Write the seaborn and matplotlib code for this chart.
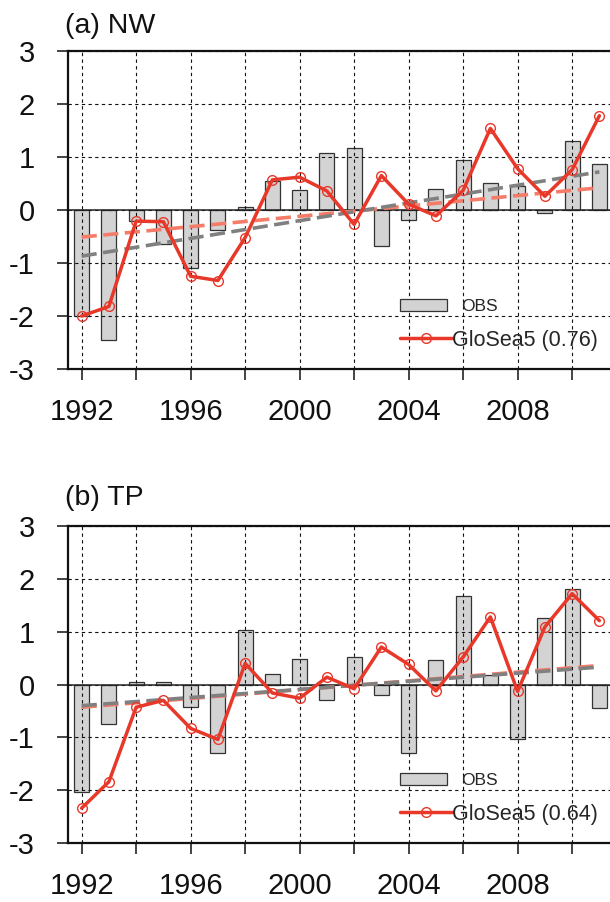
import matplotlib
matplotlib.use("Agg")
import matplotlib.pyplot as plt
import seaborn as sns
import pandas as pd
from matplotlib.patches import Patch
from matplotlib.lines import Line2D

# ---------------- data ----------------
years = [1992, 1993, 1994, 1995, 1996, 1997, 1998, 1999, 2000, 2001,
         2002, 2003, 2004, 2005, 2006, 2007, 2008, 2009, 2010, 2011]

obs_nw = [-2.00, -2.45, -0.21, -0.65, -1.09, -0.38, 0.06, 0.54, 0.38, 1.07,
          1.17, -0.68, -0.18, 0.39, 0.94, 0.51, 0.46, -0.06, 1.30, 0.87]
glosea_nw = [-2.00, -1.82, -0.21, -0.22, -1.25, -1.33, -0.52, 0.57, 0.62, 0.36,
             -0.27, 0.65, 0.11, -0.11, 0.37, 1.54, 0.78, 0.26, 0.76, 1.78]

obs_tp = [-2.04, -0.74, 0.05, 0.04, -0.43, -1.30, 1.04, 0.19, 0.48, -0.30,
          0.52, -0.19, -1.30, 0.47, 1.68, 0.18, -1.04, 1.25, 1.81, -0.45]
glosea_tp = [-2.34, -1.84, -0.43, -0.30, -0.83, -1.04, 0.40, -0.16, -0.26, 0.14,
             -0.08, 0.71, 0.38, -0.12, 0.52, 1.28, -0.13, 1.09, 1.72, 1.21]

trend_years = [1992, 2011]
trend_obs_nw = [-0.87, 0.72]
trend_glosea_nw = [-0.51, 0.42]
trend_obs_tp = [-0.40, 0.33]
trend_glosea_tp = [-0.43, 0.36]

panel_titles = ["(a) NW", "(b) TP"]
model_labels = ["GloSea5 (0.76)", "GloSea5 (0.64)"]
obs_label = "OBS"
tick_years = [1992, 1994, 1996, 1998, 2000, 2002, 2004, 2006, 2008, 2010]
labelled_years = [1992, 1996, 2000, 2004, 2008]
yticks = [-3, -2, -1, 0, 1, 2, 3]

# ---------------- style ----------------
sns.set_style("white")
plt.rcParams["font.family"] = ["Liberation Sans", "DejaVu Sans"]
plt.rcParams["axes.unicode_minus"] = False

RED = "#e8382a"
SALMON = "#f47c68"
GREY = "#808080"
BAR = "#d3d3d3"
INK = "#111111"

fig = plt.figure(figsize=(6.10, 9.02), dpi=100)
ax_a = fig.add_axes([0.1115, 0.5909, 0.8934, 0.3525])
ax_b = fig.add_axes([0.1115, 0.0654, 0.8934, 0.3514])
title_y = [1.080, 1.090]

panels = [
    (ax_a, obs_nw, glosea_nw, trend_obs_nw, trend_glosea_nw),
    (ax_b, obs_tp, glosea_tp, trend_obs_tp, trend_glosea_tp),
]

for i, (ax, obs, mod, tr_obs, tr_mod) in enumerate(panels):
    df = pd.DataFrame({"year": years, "obs": obs, "model": mod})
    tdf = pd.DataFrame({"year": trend_years, "obs": tr_obs, "model": tr_mod})

    sns.barplot(data=df, x="year", y="obs", native_scale=True, width=0.55,
                color=BAR, saturation=1, edgecolor="#333333", linewidth=0.9,
                errorbar=None, ax=ax, zorder=1)
    ax.axhline(0, color="#222222", lw=1.1, zorder=1.6)

    sns.lineplot(data=tdf, x="year", y="model", ax=ax, color=SALMON, lw=2.6,
                 linestyle=(0, (4.2, 1.8)), zorder=3)
    sns.lineplot(data=tdf, x="year", y="obs", ax=ax, color=GREY, lw=2.6,
                 linestyle=(0, (4.2, 1.8)), zorder=3.1)
    sns.lineplot(data=df, x="year", y="model", ax=ax, color=RED, lw=2.5,
                 marker="o", markersize=7, markerfacecolor="none",
                 markeredgecolor=RED, markeredgewidth=1.0, zorder=4)

    ax.set_xlim(1991.5, 2011.5)
    ax.set_ylim(-3, 3)
    ax.set_xticks(tick_years)
    ax.set_xticklabels([str(y) if y in labelled_years else "" for y in tick_years])
    ax.set_yticks(yticks)
    ax.set_yticklabels([str(v) for v in yticks])
    ax.set_xlabel("")
    ax.set_ylabel("")

    ax.grid(True, color=INK, lw=0.8, linestyle=(0, (3, 3)))
    ax.set_axisbelow("line")

    for side in ["left", "bottom", "top"]:
        ax.spines[side].set_visible(True)
        ax.spines[side].set_linewidth(1.6)
        ax.spines[side].set_color(INK)
    ax.spines["right"].set_visible(False)

    ax.tick_params(axis="both", direction="out", length=8, width=1.1,
                   color=INK, labelsize=21, labelcolor=INK)
    ax.tick_params(axis="x", pad=13, bottom=True)
    ax.tick_params(axis="y", pad=16, left=True)

    ax.text(-0.006, title_y[i], panel_titles[i], transform=ax.transAxes,
            ha="left", va="center", fontsize=20.5, color=INK)

    # legend: two separate entries with different text sizes
    h_obs = Patch(facecolor=BAR, edgecolor="#333333", linewidth=0.9)
    leg1 = ax.legend([h_obs], [obs_label], loc="center left",
                     bbox_to_anchor=(0.609, 0.196), frameon=False,
                     fontsize=12.5, handlelength=2.7, handleheight=0.65,
                     handletextpad=0.8, borderpad=0, borderaxespad=0)
    ax.add_artist(leg1)
    h_mod = Line2D([], [], color=RED, lw=2.5, marker="o", markersize=7,
                   markerfacecolor="none", markeredgecolor=RED,
                   markeredgewidth=1.0)
    ax.legend([h_mod], [model_labels[i]], loc="center left",
              bbox_to_anchor=(0.609, 0.091), frameon=False,
              fontsize=15.5, handlelength=2.4, handletextpad=0.0,
              borderpad=0, borderaxespad=0, numpoints=1)

fig.savefig("out.png", dpi=100)
